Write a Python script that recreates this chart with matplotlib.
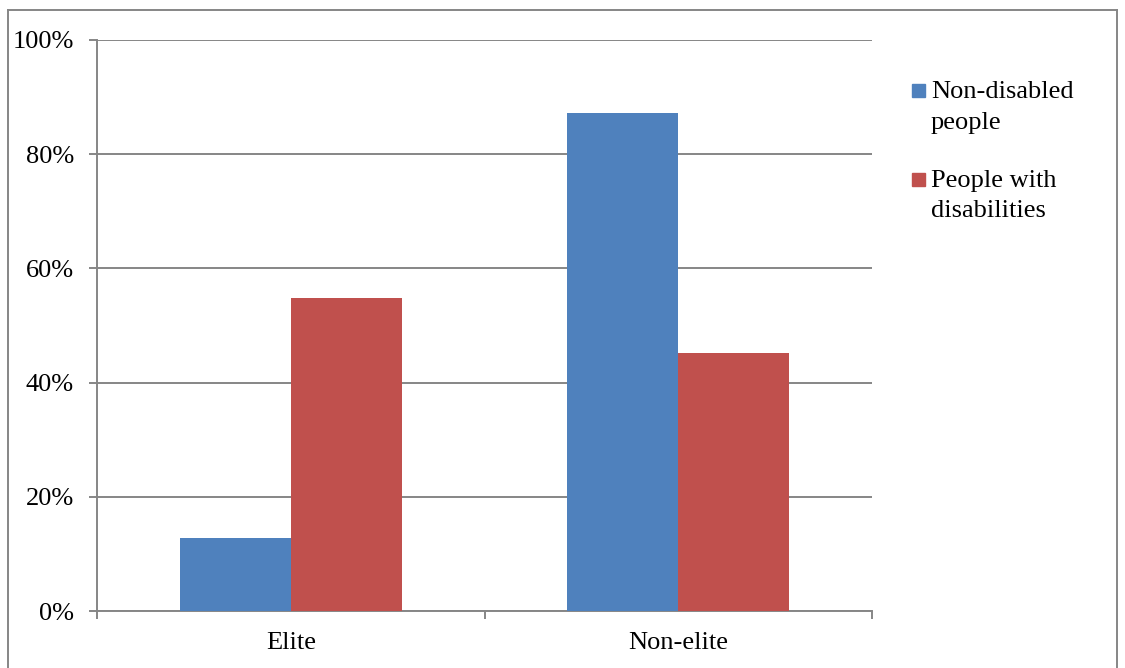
import numpy as np
import matplotlib.pyplot as plt
from matplotlib.lines import Line2D
from matplotlib.patches import Rectangle

plt.rcParams['font.family'] = ['Liberation Serif', 'DejaVu Serif']

groups = ["Elite", "Non-elite"]
series = ["Non-disabled\npeople", "People with\ndisabilities"]
non_disabled = [12.8, 87.2]
with_disabilities = [54.8, 45.2]
colors = ["#4F81BD", "#C0504D"]
grey = "#868686"

W, H = 1125, 668
fig = plt.figure(figsize=(W / 100, H / 100), dpi=100)
ax = fig.add_axes([97 / W, 57 / H, 775 / W, 571 / H])

x = np.arange(len(groups))
w = 0.286
ax.bar(x - w / 2, non_disabled, w, color=colors[0], zorder=3)
ax.bar(x + w / 2, with_disabilities, w, color=colors[1], zorder=3)

ax.set_xlim(-0.5, 1.5)
ax.set_ylim(0, 100)
ax.set_yticks(range(0, 101, 20))
ax.set_yticklabels([f"{v}%" for v in range(0, 101, 20)])
ax.set_xticks(x)
ax.set_xticklabels(groups)
ax.set_xticks([-0.5, 0.5, 1.5], minor=True)

ax.grid(axis="y", color=grey, linewidth=1.4, zorder=0)
for side in ["top", "right"]:
    ax.spines[side].set_visible(False)
for side in ["left", "bottom"]:
    ax.spines[side].set_color(grey)
    ax.spines[side].set_linewidth(1.4)

ax.tick_params(axis="y", length=5.5, width=1.4, color=grey, pad=11, labelsize=19)
ax.tick_params(axis="x", which="major", length=0, pad=15, labelsize=19)
ax.tick_params(axis="x", which="minor", length=5.5, width=1.4, color=grey)

# legend drawn by hand: square marker next to the first line of each label
for i, (label, c) in enumerate(zip(series, colors)):
    top = 84 + i * 89
    fig.add_artist(Rectangle((912 / W, 1 - (top + 13) / H), 13 / W, 13 / H,
                             color=c, transform=fig.transFigure))
    fig.text(931 / W, 1 - (top - 3) / H, label, fontsize=19, va="top", ha="left",
             linespacing=1.5)

# outer chart border
fig.add_artist(Line2D([8 / W, 8 / W], [0, 1 - 10 / H], color=grey, linewidth=1.4,
                      transform=fig.transFigure))
fig.add_artist(Line2D([8 / W, 1117 / W], [1 - 10 / H, 1 - 10 / H], color=grey,
                      linewidth=1.4, transform=fig.transFigure))
fig.add_artist(Line2D([1117 / W, 1117 / W], [0, 1 - 10 / H], color=grey, linewidth=1.4,
                      transform=fig.transFigure))

fig.savefig("out.png", dpi=100)
